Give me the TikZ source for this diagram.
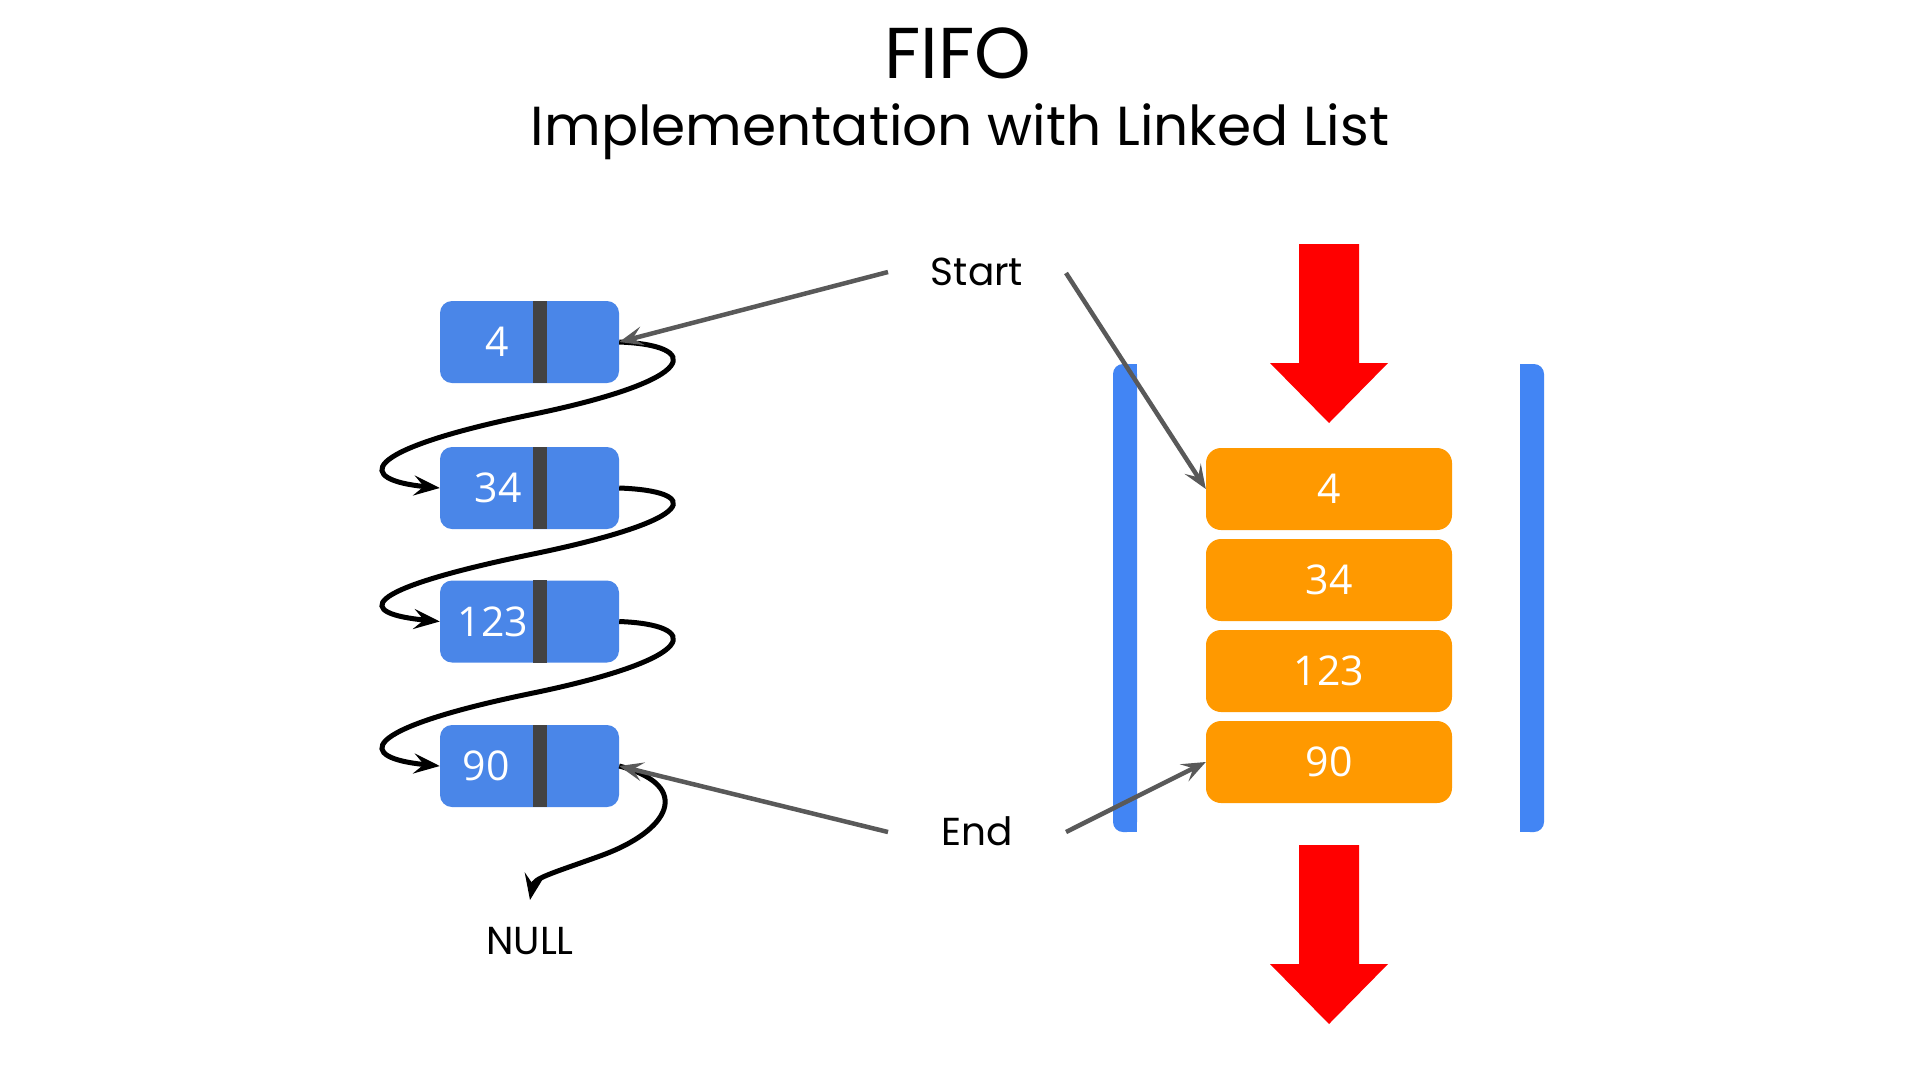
\documentclass[tikz,border=0pt]{standalone}
\usepackage{fontspec}
\setmainfont{Poppins}
\newfontfamily\numfont{Open Sans}
\usetikzlibrary{arrows.meta,calc}
\definecolor{lblue}{HTML}{4A86E8}
\definecolor{barblue}{HTML}{4285F4}
\definecolor{divgray}{HTML}{434343}
\definecolor{lorange}{HTML}{FF9900}
\definecolor{arrgray}{HTML}{595959}
\definecolor{bigred}{HTML}{FF0000}
\tikzset{
  bnode/.style={fill=lblue, rounded corners=12pt, minimum width=179pt, minimum height=82pt, inner sep=0pt},
  btext/.style={text=white, inner sep=0pt, font=\numfont\fontsize{41}{48}\selectfont},
  onode/.style={fill=lorange, rounded corners=15pt, minimum width=246pt, minimum height=82pt, inner sep=0pt, text=white, font=\numfont\fontsize{41}{48}\selectfont},
  lbl/.style={inner sep=0pt, anchor=base, font=\fontsize{39}{46}\selectfont},
  link/.style={line width=5pt, black, -{Stealth[length=26pt,width=20pt,inset=10pt]}},
  pointer/.style={line width=4.5pt, arrgray, -{Stealth[length=24pt,width=19pt,inset=10pt]}},
  bigarrow/.style={fill=bigred}
}
\begin{document}
\begin{tikzpicture}[x=1pt,y=-1pt]
\useasboundingbox (0,0) rectangle (1920,1080);
\fill[white] (0,0) rectangle (1920,1080);

% titles
\node[inner sep=0pt, anchor=base, font=\fontsize{72}{78}\selectfont] (title) at (958,78) {FIFO};
\node[inner sep=0pt, anchor=base, font=\fontsize{55}{62}\selectfont] (subtitle) at (960,145) {Implementation with Linked List};

% linked list boxes
\node[bnode] (b1) at (529.5,342) {};
\node[bnode] (b2) at (529.5,488) {};
\node[bnode] (b3) at (529.5,621.5) {};
\node[bnode] (b4) at (529.5,766) {};
\foreach \b in {b1,b2,b3,b4}{
  \fill[divgray] ([xshift=3.5pt]\b.north) rectangle ([xshift=17.5pt]\b.south);
}
\node[btext] (t1) at (497,342) {4};
\node[btext] (t2) at (498,488) {34};
\node[btext] (t3) at (493,621.5) {123};
\node[btext] (t4) at (486,766) {90};

% links
\foreach \a/\b in {b1/b2,b2/b3,b3/b4}{
  \draw[link] (\a.east) .. controls +(81,3) and +(176,-36) .. ($(\a.east)!0.5!(\b.west)$) .. controls +(-174,36) and +(-84,-8) .. (\b.west);
}
\node[lbl] (null) at (530,954) {NULL};
\coordinate (nullmid) at (600,856);
\coordinate (nulltip) at (530,900);
\draw[link] (b4.east) .. controls +(75,20) and +(70,-25) .. (nullmid) .. controls +(-50,18) and +(4,-22) .. (nulltip);

% bars
\fill[barblue, rounded corners=10pt] (1113,364) rectangle (1137,832);
\fill[barblue] (1125,364) rectangle (1137,832);
\fill[barblue, rounded corners=10pt] (1520,364) rectangle (1544,832);
\fill[barblue] (1520,364) rectangle (1532,832);

% queue boxes
\node[onode] (o1) at (1329,489) {4};
\node[onode] (o2) at (1329,580) {34};
\node[onode] (o3) at (1329,671) {123};
\node[onode] (o4) at (1329,762) {90};

% big arrows
\fill[bigarrow] (1299,244) -- (1359,244) -- (1359,363) -- (1388,363) -- (1329,423) -- (1270,363) -- (1299,363) -- cycle;
\fill[bigarrow] (1299,845) -- (1359,845) -- (1359,964) -- (1388,964) -- (1329,1024) -- (1270,964) -- (1299,964) -- cycle;

% pointers
\node[lbl] (start) at (977,285) {Start};
\node[lbl] (end) at (977,845) {End};
\coordinate (sl) at (888,272);
\coordinate (sr) at (1066,273);
\coordinate (el) at (888,832);
\coordinate (er) at (1066,832);
\draw[pointer] (sl) -- (b1.east);
\draw[pointer] (sr) -- (o1.west);
\draw[pointer] (el) -- (b4.east);
\draw[pointer] (er) -- (o4.west);
\end{tikzpicture}
\end{document}
